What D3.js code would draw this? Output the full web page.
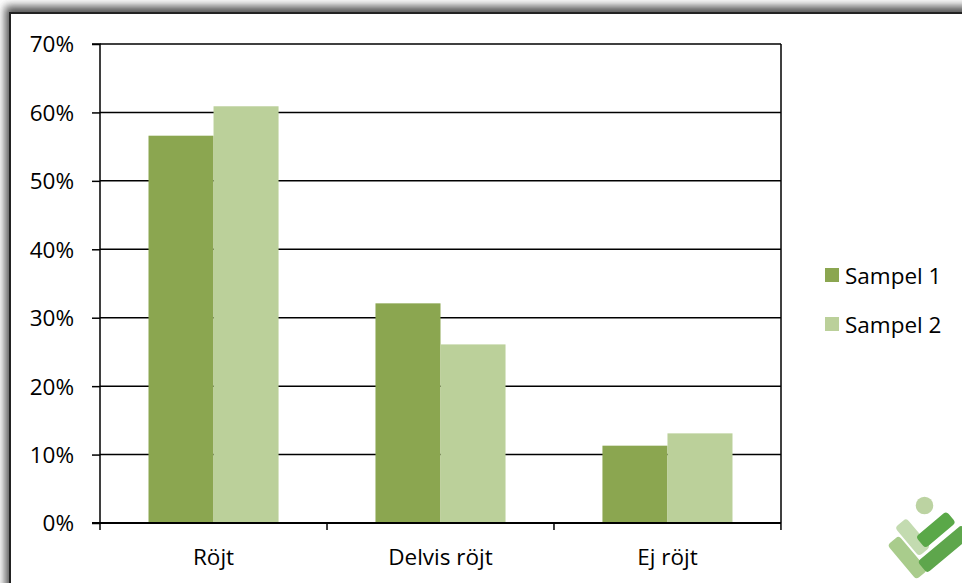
<!DOCTYPE html>
<html><head><meta charset="utf-8">
<script src="https://cdn.jsdelivr.net/npm/d3@7"></script>
<style>html,body{margin:0;padding:0;background:#fff;overflow:hidden}svg{display:block}</style>
</head><body>
<script>
const categories = ["Röjt", "Delvis röjt", "Ej röjt"];
const seriesNames = ["Sampel 1", "Sampel 2"];
const sampel1 = [0.566, 0.321, 0.113];
const sampel2 = [0.609, 0.261, 0.131];
const yTicks = [0, 0.1, 0.2, 0.3, 0.4, 0.5, 0.6, 0.7];
const colors = ["#8BA650", "#BBD09A"];

const W = 962, H = 583;
const svg = d3.select("body").append("svg").attr("width", W).attr("height", H);
const defs = svg.append("defs");
const f = defs.append("filter").attr("id", "sh").attr("x", "-20%").attr("y", "-20%").attr("width", "140%").attr("height", "140%");
f.append("feGaussianBlur").attr("stdDeviation", 4);

// outer frame with shadow
svg.append("rect").attr("x", 5).attr("y", 6).attr("width", 1000).attr("height", 700)
  .attr("fill", "#555").attr("filter", "url(#sh)");
svg.append("rect").attr("x", 10).attr("y", 13).attr("width", 1000).attr("height", 700)
  .attr("fill", "#fff").attr("stroke", "#222").attr("stroke-width", 2);

const m = {left: 100, top: 44, right: 781, bottom: 523};
const x0 = d3.scaleBand().domain(categories).range([m.left, m.right]).paddingInner(0.427).paddingOuter(0.2137);
const x1 = d3.scaleBand().domain(seriesNames).range([0, x0.bandwidth()]);
const y = d3.scaleLinear().domain([0, 0.7]).range([m.bottom, m.top]);
const font = "'Open Sans', sans-serif";
const fs = 22.5;

// gridlines
svg.append("g").selectAll("line").data(yTicks.slice(1)).join("line")
  .attr("x1", m.left).attr("x2", m.right).attr("y1", d => y(d)).attr("y2", d => y(d))
  .attr("stroke", "#000").attr("stroke-width", 1.5);
// right border
svg.append("line").attr("x1", m.right).attr("x2", m.right).attr("y1", m.top).attr("y2", m.bottom)
  .attr("stroke", "#000").attr("stroke-width", 1.5);

// bars
const data = categories.map((c, i) => ({c, vals: [sampel1[i], sampel2[i]]}));
svg.append("g").selectAll("g").data(data).join("g")
  .attr("transform", d => `translate(${x0(d.c)},0)`)
  .selectAll("rect").data(d => d.vals.map((v, j) => ({v, s: seriesNames[j], j})))
  .join("rect")
  .attr("x", d => x1(d.s)).attr("width", x1.bandwidth())
  .attr("y", d => y(d.v)).attr("height", d => y(0) - y(d.v))
  .attr("fill", d => colors[d.j]);

// y axis
const yAxis = d3.axisLeft(y).tickValues(yTicks).tickFormat(d3.format(".0%")).tickSize(8).tickPadding(18);
const gy = svg.append("g").attr("transform", `translate(${m.left},0)`).call(yAxis);
gy.select(".domain").attr("stroke", "#000").attr("stroke-width", 1.5).attr("d", `M-8,${m.top}H0V${m.bottom}`);
gy.selectAll(".tick line").attr("stroke", "#000").attr("stroke-width", 1.5);
gy.selectAll("text").attr("font-family", font).attr("font-size", fs).attr("fill", "#000").attr("dy", "0.35em");

// x axis
const gx = svg.append("g").attr("transform", `translate(0,${m.bottom})`);
gx.append("line").attr("x1", m.left - 8).attr("x2", m.right).attr("y1", 0).attr("y2", 0).attr("stroke", "#000").attr("stroke-width", 2);
const bounds = [m.left].concat(categories.map(c => x0(c) + x0.bandwidth() + x0.step() * 0.427 / 2));
gx.selectAll("line.t").data(bounds).join("line").attr("class", "t")
  .attr("x1", d => d).attr("x2", d => d).attr("y1", 0).attr("y2", 7).attr("stroke", "#000").attr("stroke-width", 1.5);
gx.selectAll("text").data(categories).join("text")
  .attr("x", d => x0(d) + x0.bandwidth() / 2).attr("y", 42)
  .attr("text-anchor", "middle").attr("font-family", font).attr("font-size", fs).attr("fill", "#000").text(d => d);

// legend
const lg = svg.append("g").selectAll("g").data(seriesNames).join("g")
  .attr("transform", (d, i) => `translate(825,${268 + i * 49})`);
lg.append("rect").attr("width", 14).attr("height", 14).attr("fill", (d, i) => colors[i]);
lg.append("text").attr("x", 20).attr("y", 8).attr("dy", "0.35em").attr("font-family", font).attr("font-size", fs).attr("fill", "#000").text(d => d);

// logo
const logo = svg.append("g").attr("transform", "translate(922,538) scale(1.25)");
logo.append("circle").attr("cx", 2).attr("cy", -26).attr("r", 7).attr("fill", "#bcd3a2");
logo.append("rect").attr("x", -6).attr("y", -8).attr("width", 12).attr("height", 30).attr("rx", 3)
  .attr("transform", "translate(-12,-6) rotate(-40)").attr("fill", "#c3dbb0");
logo.append("rect").attr("x", -6).attr("y", -8).attr("width", 12).attr("height", 36).attr("rx", 3)
  .attr("transform", "translate(-18,8) rotate(-40)").attr("fill", "#a9cc8c");
logo.append("rect").attr("x", -6).attr("y", -20).attr("width", 12).attr("height", 32).attr("rx", 3)
  .attr("transform", "translate(8,-4) rotate(50)").attr("fill", "#5aa848");
logo.append("rect").attr("x", -6).attr("y", -28).attr("width", 12).attr("height", 46).attr("rx", 3)
  .attr("transform", "translate(14,12) rotate(50)").attr("fill", "#5ea64c");
</script>
</body></html>
